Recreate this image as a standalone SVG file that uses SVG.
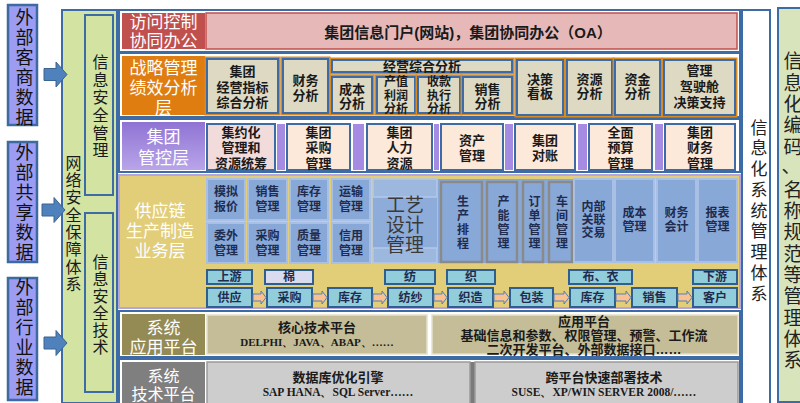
<svg xmlns="http://www.w3.org/2000/svg" width="800" height="403" viewBox="0 0 800 403">
<defs>
<linearGradient id="gPurple" x1="0" y1="0" x2="0" y2="1"><stop offset="0" stop-color="#8f73d3"/><stop offset="1" stop-color="#b9a5ea"/></linearGradient>
<path id="bigArrow" d="M0,-6 H12 V-12.5 L23,0 L12,12.5 V6 H0 Z"/>
</defs>
<style>
text{font-family:"Liberation Sans","Noto Sans CJK SC",sans-serif;dominant-baseline:central;text-anchor:middle}
tspan{dominant-baseline:central}
.vt{writing-mode:vertical-rl}
.ext rect{fill:#9b9cf2;stroke:#3d6aa0;stroke-width:2.5}
.ext text{font-size:18px;fill:#111;letter-spacing:2px}
.ba{fill:#4f81bd;stroke:#3a6591;stroke-width:1}
.lbl{font-size:17px;fill:#fff;font-weight:400}
.c{font-size:13px;font-weight:700;fill:#1a1a1a}
.c12{font-size:12px;font-weight:700;fill:#1a1a1a}
.cn{font-size:12px;font-weight:700;fill:#1f2c4f}
.row{fill:#fff;stroke:#3c6ba5;stroke-width:2}
.of{fill:none;stroke:#d98a20;stroke-width:5}
.beige{fill:#ddd9c3;stroke:#3c6ba5;stroke-width:2}
.peach{fill:#fde9d9;stroke:#3c6ba5;stroke-width:2}
.pstrip{fill:#a58be2}
.bc{fill:#88a8d8;stroke:#a9c0e4;stroke-width:2}
.gc{fill:#88a8d8;stroke:#8a8a8a;stroke-width:2.5}
.stg{fill:#92cddc;stroke:#2e5f8f;stroke-width:2}
.fa{fill:#fac090;stroke:#4f81bd;stroke-width:1}
.grn{fill:#d3e3a1;stroke:#3c6ba5;stroke-width:2}
.v16{font-size:16px;fill:#1a1a1a}
.v17{font-size:17px;fill:#222;letter-spacing:3.75px}
.vs{letter-spacing:2px}
.ser{font-family:"Liberation Serif",serif;font-weight:700;fill:#1a1a1a}
</style>

<!-- external data boxes -->
<g id="ext1" class="ext"><rect x="8" y="5" width="29" height="120"/>
<text class="vt" x="22.5" y="68">外部客商数据</text></g>
<g id="ext2" class="ext"><rect x="8" y="142" width="29" height="120"/>
<text class="vt" x="22.5" y="203.5">外部共享数据</text></g>
<g id="ext3" class="ext"><rect x="8" y="278" width="29" height="122"/>
<text class="vt" x="22.5" y="338.5">外部行业数据</text></g>

<!-- network security -->
<g id="netsec">
<rect class="grn" x="62" y="10" width="55" height="393" stroke-width="2.5"/>
<text class="v16 vt" x="72" y="224" style="letter-spacing:1.3px">网络安全保障体系</text>
</g>
<g id="secmgmt">
<rect class="grn" x="85" y="15" width="28" height="180"/>
<text class="v16 vt" x="99" y="107" style="letter-spacing:1.6px">信息安全管理</text>
</g>
<g id="sectech">
<rect class="grn" x="85" y="213" width="28" height="179"/>
<text class="v16 vt" x="99" y="305" style="letter-spacing:1px">信息安全技术</text>
</g>

<!-- right side -->
<g id="infosys">
<rect x="742" y="10" width="28" height="395" fill="#fff" stroke="#3c6ba5" stroke-width="2"/>
<text class="v17 vt" x="757" y="212">信息化系统管理体系</text>
</g>
<g id="coding">
<rect x="778" y="8" width="26" height="394" fill="#d8e4bc" stroke="#3c6ba5" stroke-width="2"/>
<text class="vt" font-size="19" fill="#222" x="791" y="105" style="letter-spacing:2.3px">信息化编码</text>
<text font-size="19" fill="#222" x="791" y="166">、</text>
<text class="vt" font-size="19" fill="#222" x="791" y="276" style="letter-spacing:2.3px">名称规范等管理体系</text>
</g>

<!-- Row 1 -->
<g id="row1">
<rect class="row" x="119" y="10" width="621" height="42"/>
<rect x="122" y="13" width="83" height="36" fill="#c0504d"/>
<text class="lbl" x="163.5"><tspan x="163.5" y="22">访问控制</tspan><tspan x="163.5" y="41">协同办公</tspan></text>
<rect x="206" y="13" width="531" height="36" fill="#e6b9b8" stroke="#c0504d" stroke-width="1.5"/>
<text x="468" y="32" font-size="15" font-weight="700" fill="#1a1a1a">集团信息门户(网站)，集团协同办公（OA）</text>
</g>

<!-- Row 2 -->
<g id="row2">
<rect class="row" x="119" y="53" width="621" height="64"/>
<rect x="122" y="56" width="83" height="59" fill="#e07d10"/>
<text class="lbl" x="163.5"><tspan x="163.5" y="68">战略管理</tspan><tspan x="163.5" y="88">绩效分析</tspan><tspan x="163.5" y="108">层</tspan></text>
</g>
<g id="r2c1"><rect class="of" x="207" y="59" width="71" height="54"/><rect class="beige" x="207" y="59" width="71" height="54"/>
<text class="c" x="242.5"><tspan x="242.5" y="71">集团</tspan><tspan x="242.5" y="87">经营指标</tspan><tspan x="242.5" y="102">综合分析</tspan></text></g>
<g id="r2c2"><rect class="of" x="283" y="59" width="45" height="54"/><rect class="beige" x="283" y="59" width="45" height="54"/>
<text class="c" x="305.5"><tspan x="305.5" y="80">财务</tspan><tspan x="305.5" y="95">分析</tspan></text></g>
<g id="r2hdr"><rect class="of" x="332" y="60" width="180" height="12"/><rect class="beige" x="332" y="60" width="180" height="12"/>
<text class="c" x="422" y="66">经营综合分析</text></g>
<g id="r2c3"><rect class="of" x="332" y="77" width="40" height="36"/><rect class="beige" x="332" y="77" width="40" height="36"/>
<text class="c" x="352"><tspan x="352" y="89">成本</tspan><tspan x="352" y="103">分析</tspan></text></g>
<g id="r2c4"><rect class="of" x="377" y="77" width="38" height="36"/><rect class="beige" x="377" y="77" width="38" height="36"/>
<text class="c12" x="396"><tspan x="396" y="82">产值</tspan><tspan x="396" y="96">利润</tspan><tspan x="396" y="109">分析</tspan></text></g>
<g id="r2c5"><rect class="of" x="418" y="77" width="42" height="36"/><rect class="beige" x="418" y="77" width="42" height="36"/>
<text class="c12" x="439"><tspan x="439" y="82">收款</tspan><tspan x="439" y="96">执行</tspan><tspan x="439" y="109">分析</tspan></text></g>
<g id="r2c6"><rect class="of" x="463" y="77" width="49" height="36"/><rect class="beige" x="463" y="77" width="49" height="36"/>
<text class="c" x="487.5"><tspan x="487.5" y="89">销售</tspan><tspan x="487.5" y="103">分析</tspan></text></g>
<g id="r2c7"><rect class="of" x="517" y="60" width="46" height="55"/><rect class="beige" x="517" y="60" width="46" height="55"/>
<text class="c" x="540"><tspan x="540" y="79">决策</tspan><tspan x="540" y="93">看板</tspan></text></g>
<g id="r2c8"><rect class="of" x="567" y="60" width="45" height="55"/><rect class="beige" x="567" y="60" width="45" height="55"/>
<text class="c" x="589.5"><tspan x="589.5" y="79">资源</tspan><tspan x="589.5" y="93">分析</tspan></text></g>
<g id="r2c9"><rect class="of" x="615" y="60" width="45" height="55"/><rect class="beige" x="615" y="60" width="45" height="55"/>
<text class="c" x="637.5"><tspan x="637.5" y="79">资金</tspan><tspan x="637.5" y="93">分析</tspan></text></g>
<g id="r2c10"><rect class="of" x="664" y="60" width="71" height="55"/><rect class="beige" x="664" y="60" width="71" height="55"/>
<text class="c" x="699.5"><tspan x="699.5" y="70">管理</tspan><tspan x="699.5" y="86">驾驶舱</tspan><tspan x="699.5" y="102">决策支持</tspan></text></g>

<!-- Row 3 -->
<g id="row3">
<rect class="row" x="119" y="119" width="621" height="53"/>
<rect x="122" y="122" width="83" height="48" fill="url(#gPurple)"/>
<text class="lbl" x="163.5"><tspan x="163.5" y="137">集团</tspan><tspan x="163.5" y="158">管控层</tspan></text>
<rect class="pstrip" x="277" y="124" width="8" height="46"/>
<rect class="pstrip" x="353" y="124" width="11" height="46"/>
<rect class="pstrip" x="434" y="124" width="5" height="46"/>
<rect class="pstrip" x="505" y="124" width="8" height="46"/>
<rect class="pstrip" x="578" y="124" width="9" height="46"/>
<rect class="pstrip" x="655" y="124" width="8" height="46"/>
</g>
<g id="r3c1"><rect class="peach" x="207" y="124" width="68" height="46" style="fill:#f2dcdb"/>
<text class="c" x="241"><tspan x="241" y="132">集约化</tspan><tspan x="241" y="147">管理和</tspan><tspan x="241" y="163">资源统筹</tspan></text></g>
<g id="r3c2"><rect class="peach" x="287" y="124" width="63" height="46"/>
<text class="c" x="318.5"><tspan x="318.5" y="132">集团</tspan><tspan x="318.5" y="147">采购</tspan><tspan x="318.5" y="163">管理</tspan></text></g>
<g id="r3c3"><rect class="peach" x="367" y="124" width="65" height="46"/>
<text class="c" x="399.5"><tspan x="399.5" y="132">集团</tspan><tspan x="399.5" y="147">人力</tspan><tspan x="399.5" y="163">资源</tspan></text></g>
<g id="r3c4"><rect class="peach" x="441" y="124" width="62" height="46"/>
<text class="c" x="472"><tspan x="472" y="140">资产</tspan><tspan x="472" y="155">管理</tspan></text></g>
<g id="r3c5"><rect class="peach" x="515" y="124" width="60" height="46"/>
<text class="c" x="545"><tspan x="545" y="140">集团</tspan><tspan x="545" y="155">对账</tspan></text></g>
<g id="r3c6"><rect class="peach" x="589" y="124" width="63" height="46"/>
<text class="c" x="620.5"><tspan x="620.5" y="132">全面</tspan><tspan x="620.5" y="147">预算</tspan><tspan x="620.5" y="163">管理</tspan></text></g>
<g id="r3c7"><rect class="peach" x="665" y="124" width="70" height="46"/>
<text class="c" x="700"><tspan x="700" y="132">集团</tspan><tspan x="700" y="147">财务</tspan><tspan x="700" y="163">管理</tspan></text></g>

<!-- Row 4 -->
<g id="row4">
<rect x="119" y="175" width="621" height="133" fill="#e2cd78" stroke="#b3a6de" stroke-width="2"/>
<text class="lbl" x="160"><tspan x="160" y="211">供应链</tspan><tspan x="160" y="231">生产制造</tspan><tspan x="160" y="251">业务层</tspan></text>
<rect x="437" y="179" width="136" height="84" fill="#88a8d8"/>
</g>
<g id="r4a1"><rect class="bc" x="207" y="179" width="38" height="41"/><text class="cn" x="226"><tspan x="226" y="192">模拟</tspan><tspan x="226" y="207">报价</tspan></text></g>
<g id="r4a2"><rect class="bc" x="248" y="179" width="39" height="41"/><text class="cn" x="267.5"><tspan x="267.5" y="192">销售</tspan><tspan x="267.5" y="207">管理</tspan></text></g>
<g id="r4a3"><rect class="bc" x="290" y="179" width="38" height="41"/><text class="cn" x="309"><tspan x="309" y="192">库存</tspan><tspan x="309" y="207">管理</tspan></text></g>
<g id="r4a4"><rect class="bc" x="332" y="179" width="38" height="41"/><text class="cn" x="351"><tspan x="351" y="192">运输</tspan><tspan x="351" y="207">管理</tspan></text></g>
<g id="r4b1"><rect class="bc" x="207" y="223" width="38" height="40"/><text class="cn" x="226"><tspan x="226" y="236">委外</tspan><tspan x="226" y="251">管理</tspan></text></g>
<g id="r4b2"><rect class="bc" x="248" y="223" width="39" height="40"/><text class="cn" x="267.5"><tspan x="267.5" y="236">采购</tspan><tspan x="267.5" y="251">管理</tspan></text></g>
<g id="r4b3"><rect class="bc" x="290" y="223" width="38" height="40"/><text class="cn" x="309"><tspan x="309" y="236">质量</tspan><tspan x="309" y="251">管理</tspan></text></g>
<g id="r4b4"><rect class="bc" x="332" y="223" width="38" height="40"/><text class="cn" x="351"><tspan x="351" y="236">信用</tspan><tspan x="351" y="251">管理</tspan></text></g>
<g id="craft">
<rect x="373" y="179" width="64" height="84" fill="#9db8df" stroke="#b3c8e8" stroke-width="1.5"/>
<rect x="373" y="197" width="64" height="51" fill="#8eacd9"/>
<line x1="373" y1="197" x2="437" y2="197" stroke="#b3c8e8" stroke-width="1.5"/>
<line x1="373" y1="248" x2="437" y2="248" stroke="#b3c8e8" stroke-width="1.5"/>
<text font-size="19" fill="#3a3a3a" x="405"><tspan x="405" y="205">工艺</tspan><tspan x="405" y="225">设计</tspan><tspan x="405" y="245">管理</tspan></text>
</g>
<g id="r4sched"><rect class="gc" x="441" y="182" width="41" height="80"/>
<text class="cn vt vs" x="461.5" y="223">生产排程</text></g>
<g id="r4cap"><rect class="gc" x="487" y="182" width="30" height="80"/>
<text class="cn vt vs" x="502" y="223">产能管理</text></g>
<g id="r4ord"><rect class="gc" x="523" y="182" width="20" height="80"/>
<text class="cn vt vs" x="533" y="223">订单管理</text></g>
<g id="r4shop"><rect class="gc" x="549" y="182" width="23" height="80"/>
<text class="cn vt vs" x="560.5" y="223">车间管理</text></g>
<g id="r4ict"><rect class="bc" x="574" y="179" width="39" height="83"/>
<text class="cn" x="593.5"><tspan x="593.5" y="207">内部</tspan><tspan x="593.5" y="220">关联</tspan><tspan x="593.5" y="233">交易</tspan></text></g>
<g id="r4cost"><rect class="bc" x="615" y="179" width="39" height="83"/>
<text class="cn" x="634.5"><tspan x="634.5" y="213">成本</tspan><tspan x="634.5" y="227">管理</tspan></text></g>
<g id="r4fin"><rect class="bc" x="657" y="179" width="39" height="83"/>
<text class="cn" x="676.5"><tspan x="676.5" y="213">财务</tspan><tspan x="676.5" y="227">会计</tspan></text></g>
<g id="r4rep"><rect class="bc" x="698" y="179" width="39" height="83"/>
<text class="cn" x="717.5"><tspan x="717.5" y="213">报表</tspan><tspan x="717.5" y="227">管理</tspan></text></g>

<!-- stage labels -->
<g id="stg1"><rect class="stg" x="207" y="270" width="45" height="14"/><text class="cn" x="229.5" y="277">上游</text></g>
<g id="stg2"><rect class="stg" x="265" y="270" width="48" height="14" style="fill:#d9dcef"/><text class="cn" x="289" y="277">棉</text></g>
<g id="stg3"><rect class="stg" x="385" y="270" width="50" height="14"/><text class="cn" x="410" y="277">纺</text></g>
<g id="stg4"><rect class="stg" x="447" y="270" width="48" height="14"/><text class="cn" x="471" y="277">织</text></g>
<g id="stg5"><rect class="stg" x="569" y="270" width="63" height="14"/><text class="cn" x="600.5" y="277">布、衣</text></g>
<g id="stg6"><rect class="stg" x="693" y="270" width="44" height="14"/><text class="cn" x="715" y="277">下游</text></g>

<!-- flow boxes -->
<g id="fl1"><rect class="stg" x="207" y="288" width="45" height="19"/><text class="cn" x="229.5" y="297.5">供应</text></g>
<g id="fl2"><rect class="stg" x="267" y="288" width="45" height="19"/><text class="cn" x="289.5" y="297.5">采购</text></g>
<g id="fl3"><rect class="stg" x="328" y="288" width="44" height="19"/><text class="cn" x="350" y="297.5">库存</text></g>
<g id="fl4"><rect class="stg" x="388" y="288" width="45" height="19"/><text class="cn" x="410.5" y="297.5">纺纱</text></g>
<g id="fl5"><rect class="stg" x="448" y="288" width="45" height="19"/><text class="cn" x="470.5" y="297.5">织造</text></g>
<g id="fl6"><rect class="stg" x="510" y="288" width="43" height="19"/><text class="cn" x="531.5" y="297.5">包装</text></g>
<g id="fl7"><rect class="stg" x="570" y="288" width="45" height="19"/><text class="cn" x="592.5" y="297.5">库存</text></g>
<g id="fl8"><rect class="stg" x="632" y="288" width="45" height="19"/><text class="cn" x="654.5" y="297.5">销售</text></g>
<g id="fl9"><rect class="stg" x="693" y="288" width="44" height="19"/><text class="cn" x="715" y="297.5">客户</text></g>

<!-- Row 5 -->
<g id="row5">
<rect class="row" x="119" y="311" width="621" height="46"/>
<rect x="122" y="314" width="83" height="41" fill="#948a54"/>
<text class="lbl" x="163.5"><tspan x="163.5" y="328">系统</tspan><tspan x="163.5" y="347">应用平台</tspan></text>
</g>
<g id="r5c1"><rect x="207" y="315" width="220" height="39" fill="#c4bd97" stroke="#e3dfcc" stroke-width="1.5"/>
<text class="c" x="317" y="327">核心技术平台</text>
<text class="ser" x="317" y="342" font-size="11">DELPHI、JAVA、ABAP、……</text></g>
<g id="r5c2"><rect x="432" y="315" width="306" height="39" fill="#c4bd97" stroke="#e3dfcc" stroke-width="1.5"/>
<text class="c" x="584"><tspan x="584" y="321">应用平台</tspan><tspan x="584" y="335">基础信息和参数、权限管理、预警、工作流</tspan><tspan x="584" y="349">二次开发平台、外部数据接口……</tspan></text></g>

<!-- Row 6 -->
<g id="row6">
<rect class="row" x="119" y="359" width="621" height="48"/>
<rect x="122" y="362" width="83" height="43" fill="#7f7f7f"/>
<text class="lbl" x="163.5" style="font-size:16px"><tspan x="163.5" y="375.5">系统</tspan><tspan x="163.5" y="393.5">技术平台</tspan></text>
<rect x="470" y="362" width="5" height="43" fill="#7a7a7a"/>
</g>
<g id="r6c1"><rect x="207" y="362" width="263" height="43" fill="#cdcdcd" stroke="#9a9a9a" stroke-width="1.5"/>
<text class="c" x="338" y="377">数据库优化引擎</text>
<text class="ser" x="338" y="392" font-size="11.5">SAP HANA、SQL Server……</text></g>
<g id="r6c2"><rect x="475" y="362" width="263" height="43" fill="#cdcdcd" stroke="#9a9a9a" stroke-width="1.5"/>
<text class="c" x="604" y="377">跨平台快速部署技术</text>
<text class="ser" x="604" y="392" font-size="11.5">SUSE、XP/WIN SERVER 2008/……</text></g>

<g id="connectors">
<use href="#bigArrow" class="ba" x="44" y="74.5"/>
<use href="#bigArrow" class="ba" x="42" y="210"/>
<use href="#bigArrow" class="ba" x="44" y="343"/>
<path class="fa" d="M253,294 H261 V291 L266,297.5 L261,304 V301 H253 Z"/>
<path class="fa" d="M313,294 H322 V291 L327,297.5 L322,304 V301 H313 Z"/>
<path class="fa" d="M373,294 H382 V291 L387,297.5 L382,304 V301 H373 Z"/>
<path class="fa" d="M434,294 H442 V291 L447,297.5 L442,304 V301 H434 Z"/>
<path class="fa" d="M494,294 H504 V291 L509,297.5 L504,304 V301 H494 Z"/>
<path class="fa" d="M554,294 H564 V291 L569,297.5 L564,304 V301 H554 Z"/>
<path class="fa" d="M616,294 H626 V291 L631,297.5 L626,304 V301 H616 Z"/>
<path class="fa" d="M678,294 H687 V291 L692,297.5 L687,304 V301 H678 Z"/>
</g>
</svg>
